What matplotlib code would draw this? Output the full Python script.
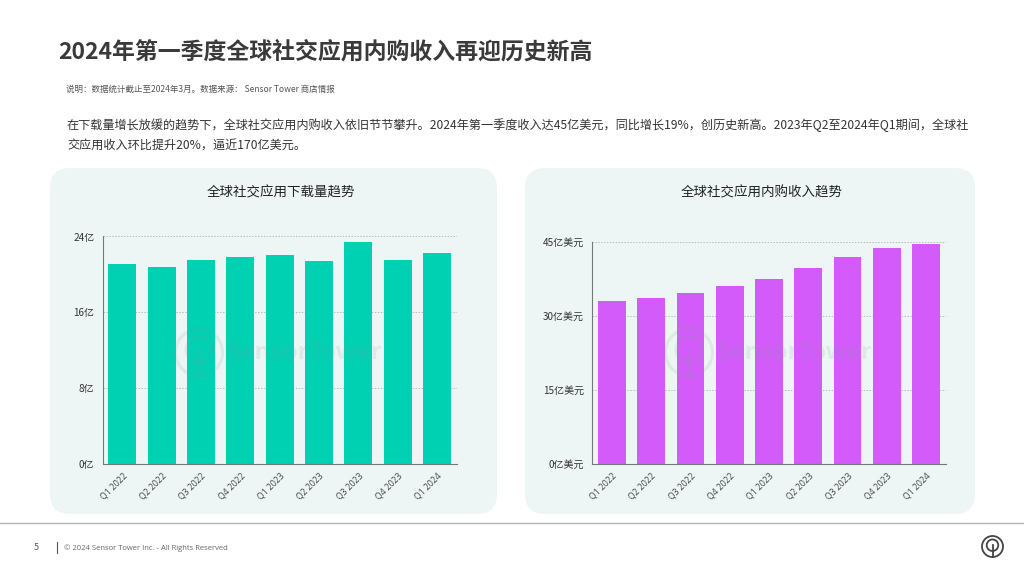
import matplotlib
matplotlib.use('Agg')
import matplotlib.pyplot as plt
from matplotlib.patches import FancyBboxPatch, Circle

plt.rcParams['font.family'] = ['Noto Sans CJK SC', 'DejaVu Sans']

quarters = ['Q1 2022', 'Q2 2022', 'Q3 2022', 'Q4 2022', 'Q1 2023', 'Q2 2023', 'Q3 2023', 'Q4 2023', 'Q1 2024']
downloads = [21.1, 20.8, 21.5, 21.8, 22.0, 21.4, 23.4, 21.5, 22.25]
revenue = [32.9, 33.5, 34.6, 36.0, 37.5, 39.6, 42.0, 43.7, 44.6]
download_ticks = [0, 8, 16, 24]
download_labels = ['0亿', '8亿', '16亿', '24亿']
revenue_ticks = [0, 15, 30, 45]
revenue_labels = ['0亿美元', '15亿美元', '30亿美元', '45亿美元']

W, H = 1024, 576
fig = plt.figure(figsize=(W / 100, H / 100), dpi=100, facecolor='white')

# 整张图的像素坐标层
bg = fig.add_axes([0, 0, 1, 1], zorder=0)
bg.set_xlim(0, W)
bg.set_ylim(H, 0)
bg.axis('off')


def add_ax(x0, x1, y_top, y_bottom):
    ax = fig.add_axes([x0 / W, 1 - y_bottom / H, (x1 - x0) / W, (y_bottom - y_top) / H], zorder=1)
    ax.patch.set_alpha(0)
    return ax


def logo(ax, cx, cy, r, color, alpha=1.0, lw=1.2):
    ax.add_patch(Circle((cx, cy), r, fill=False, ec=color, lw=lw, alpha=alpha))
    ax.add_patch(Circle((cx, cy - r * 0.12), r * 0.55, fill=False, ec=color, lw=lw, alpha=alpha))
    ax.plot([cx, cx], [cy - r * 0.12, cy + r], color=color, lw=lw, alpha=alpha)


# 面板
for x0, x1 in [(50, 497), (525, 975)]:
    bg.add_patch(FancyBboxPatch((x0 + 20, 168 + 20), x1 - x0 - 40, 346 - 40,
                                boxstyle='round,pad=20,rounding_size=20', fc='#EDF6F4', ec='none'))

# 文字
bg.text(58, 52.5, '2024年第一季度全球社交应用内购收入再迎历史新高', fontsize=16.5, fontweight='bold',
        color='#3a3a3a', va='center')
bg.text(66, 89, '说明：数据统计截止至2024年3月。数据来源： Sensor Tower 商店情报', fontsize=6.12,
        color='#555555', va='center')
bg.text(67, 125.5, '在下载量增长放缓的趋势下，全球社交应用内购收入依旧节节攀升。2024年第一季度收入达45亿美元，同比增长19%，创历史新高。2023年Q2至2024年Q1期间，全球社',
        fontsize=8.73, color='#333333', va='center')
bg.text(67, 146.5, '交应用收入环比提升20%，逼近170亿美元。', fontsize=8.73, color='#333333', va='center')
bg.text(281, 192, '全球社交应用下载量趋势', fontsize=9.7, color='#222222', ha='center', va='center')
bg.text(761.5, 192, '全球社交应用内购收入趋势', fontsize=9.7, color='#222222', ha='center', va='center')

# 页脚
bg.plot([0, W], [522.5, 522.5], color='#b5b5b5', lw=1)
bg.plot([56.5, 56.5], [542, 553], color='#555555', lw=0.8)
bg.text(36, 548, '5', fontsize=6.5, color='#555555', ha='center', va='center')
bg.text(64.5, 548, '© 2024 Sensor Tower Inc. - All Rights Reserved', fontsize=5.5, color='#666666',
        family='Open Sans', va='center')
logo(bg, 992.5, 546.5, 10.5, '#444444', lw=1.3)


def bar_panel(ax, values, color, ticks, labels, ymax):
    x = range(len(values))
    ax.set_axisbelow(True)
    ax.grid(axis='y', color='#b4bfbc', ls=(0, (1.5, 1.5)), lw=0.7)
    ax.bar(x, values, width=0.71, color=color)
    ax.set_xlim(-0.5, len(values) - 0.5)
    ax.set_ylim(0, ymax)
    ax.set_yticks(ticks, labels, fontsize=7.2, color='#333333')
    ax.set_xticks(list(x), quarters, fontsize=6.2, color='#444444', rotation=45, ha='right',
                  rotation_mode='anchor', family='Open Sans')
    ax.tick_params(axis='both', length=0)
    ax.tick_params(axis='y', pad=6)
    ax.tick_params(axis='x', pad=5.5)
    for s in ['top', 'right']:
        ax.spines[s].set_visible(False)
    for s in ['left', 'bottom']:
        ax.spines[s].set_color('#777777')
        ax.spines[s].set_linewidth(0.8)


ax1 = add_ax(102.7, 456.7, 236.5, 463.7)
bar_panel(ax1, downloads, '#00D1B3', download_ticks, download_labels, 24)
ax2 = add_ax(592.3, 945.7, 241.7, 463.7)
bar_panel(ax2, revenue, '#D25BFA', revenue_ticks, revenue_labels, 45)

# 水印
top = fig.add_axes([0, 0, 1, 1], zorder=2)
top.set_xlim(0, W)
top.set_ylim(H, 0)
top.axis('off')
for cx, tx in [(199, 228), (689, 718)]:
    logo(top, cx, 352.5, 23.5, '#7f9f99', alpha=0.15, lw=2.2)
    top.text(tx, 353, 'SensorTower', fontsize=17.5, fontweight='bold', color='#7f9f99', alpha=0.15,
             family='Open Sans', va='center')

fig.savefig('out.png', dpi=100)
